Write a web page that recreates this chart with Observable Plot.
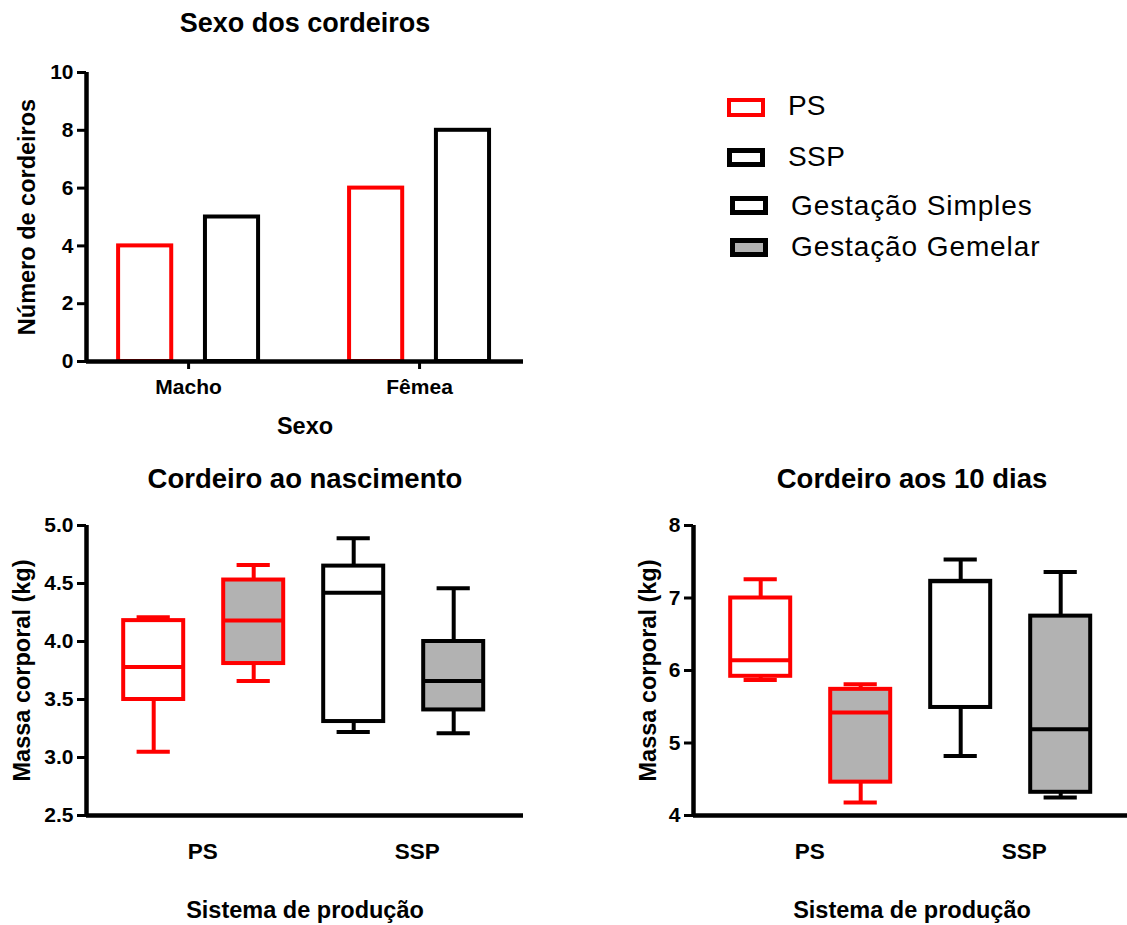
<!DOCTYPE html>
<html>
<head>
<meta charset="utf-8">
<script src="https://cdn.jsdelivr.net/npm/d3@7"></script>
<script src="https://cdn.jsdelivr.net/npm/@observablehq/plot@0.6"></script>
<style>
  html, body { margin: 0; padding: 0; background: #fff; }
  #root { position: relative; width: 1127px; height: 925px; overflow: hidden; font-family: "Liberation Sans", Arial, sans-serif; }
  .panel { position: absolute; width: 545px; }
  .panel svg { max-width: none !important; }
  .swatch { position: absolute; box-sizing: border-box; }
  .legend-label { position: absolute; font-size: 28px; line-height: 1; white-space: nowrap; transform: translateY(-50%); color: #000; }
</style>
</head>
<body>
<div id="root"></div>
<script>
// ---------------- DATA ----------------
const sexes = ["Macho", "Fêmea"];
const systems = ["PS", "SSP"];
const countsPS = [4, 6];
const countsSSP = [5, 8];

const gestations = ["Gestação Simples", "Gestação Gemelar"];
// box order: PS-Simples, PS-Gemelar, SSP-Simples, SSP-Gemelar
const birthMin = [3.05, 3.66, 3.22, 3.21];
const birthQ1  = [3.50, 3.81, 3.31, 3.41];
const birthMed = [3.78, 4.18, 4.42, 3.66];
const birthQ3  = [4.18, 4.53, 4.65, 4.00];
const birthMax = [4.21, 4.66, 4.89, 4.46];

const day10Min = [5.87, 4.18, 4.82, 4.25];
const day10Q1  = [5.92, 4.46, 5.49, 4.32];
const day10Med = [6.14, 5.42, 7.23, 5.19];
const day10Q3  = [7.00, 5.74, 7.23, 6.75];
const day10Max = [7.26, 5.81, 7.53, 7.36];

const countTicks = [0, 2, 4, 6, 8, 10];
const birthTicks = [2.5, 3.0, 3.5, 4.0, 4.5, 5.0];
const day10Ticks = [4, 5, 6, 7, 8];

const legendLabels = ["PS", "SSP", "Gestação Simples", "Gestação Gemelar"];

// ---------------- STYLE ----------------
const RED = "#ff0000";
const BLACK = "#000000";
const GREY = "#b2b2b2";
const systemColor = s => s === "PS" ? RED : BLACK;
const gestFill = g => g === gestations[0] ? "#ffffff" : GREY;
const FONT = "'Liberation Sans', Arial, sans-serif";
const TICK_FS = 21;
const root = document.getElementById("root");

function place(el, left, top) {
  const wrap = document.createElement("div");
  wrap.className = "panel";
  wrap.style.left = left + "px";
  wrap.style.top = top + "px";
  wrap.appendChild(el);
  root.appendChild(wrap);
}

// ---------------- BAR CHART ----------------
{
  const xDomain = [0.558, 2.45];
  const yDomain = [0, 10];
  const bars = [];
  sexes.forEach((sex, i) => {
    bars.push({sex, system: "PS", value: countsPS[i], pos: i + 1 - 0.188});
    bars.push({sex, system: "SSP", value: countsSSP[i], pos: i + 1 + 0.188});
  });
  const half = 0.115;
  const chart = Plot.plot({
    width: 545, height: 440,
    marginLeft: 86, marginRight: 22, marginTop: 72, marginBottom: 79,
    style: {fontFamily: FONT, fontSize: "21px", fontWeight: "bold", background: "transparent", color: "#000"},
    x: {type: "linear", domain: xDomain},
    y: {domain: yDomain},
    marks: [
      Plot.rectY(bars, {x1: d => d.pos - half, x2: d => d.pos + half, y1: 0, y2: "value",
        fill: "white", stroke: d => systemColor(d.system), strokeWidth: 4}),
      Plot.ruleY([yDomain[0]], {x1: xDomain[0], x2: xDomain[1], stroke: BLACK, strokeWidth: 4.5}),
      Plot.ruleX([xDomain[0]], {y1: yDomain[0], y2: yDomain[1], stroke: BLACK, strokeWidth: 4.5}),
      Plot.axisY({ticks: countTicks, tickSize: 9, tickPadding: 4, strokeWidth: 3, fontSize: TICK_FS, label: null}),
      Plot.axisX({ticks: [1, 2], tickFormat: d => sexes[d - 1], tickSize: 8, tickPadding: 10, strokeWidth: 3, fontSize: TICK_FS, label: null}),
      Plot.text(["Sexo dos cordeiros"], {frameAnchor: "top", textAnchor: "middle", lineAnchor: "middle", dy: -49, fontSize: 27}),
      Plot.text(["Número de cordeiros"], {frameAnchor: "left", textAnchor: "middle", lineAnchor: "middle", rotate: -90, dx: -59, fontSize: 23.5}),
      Plot.text(["Sexo"], {frameAnchor: "bottom", textAnchor: "middle", lineAnchor: "middle", dy: 65, fontSize: 23.5})
    ]
  });
  place(chart, 0, 0);
}

// ---------------- BOX CHARTS ----------------
function boxRows(mins, q1s, meds, q3s, maxs) {
  const rows = [];
  systems.forEach((s, si) => {
    gestations.forEach((g, gi) => {
      const i = si * gestations.length + gi;
      rows.push({system: s, gestation: g, pos: si + 1 + (gi === 0 ? -0.25 : 0.25),
        min: mins[i], q1: q1s[i], med: meds[i], q3: q3s[i], max: maxs[i]});
    });
  });
  return rows;
}

// category label positions (the original places the SSP label slightly right of its group centre)
const systemTickPos = [0.995, 2.068];

function boxChart(rows, title, yDomain, ticks, fmt, yLabelDx) {
  const xDomain = [0.414, 2.599];
  const bw = 0.15, cw = 0.083;
  const col = d => systemColor(d.system);
  return Plot.plot({
    width: 545, height: 465,
    marginLeft: 86, marginRight: 22, marginTop: 65, marginBottom: 110,
    style: {fontFamily: FONT, fontSize: "21px", fontWeight: "bold", background: "transparent", color: "#000"},
    x: {type: "linear", domain: xDomain},
    y: {domain: yDomain},
    marks: [
      Plot.ruleX(rows, {x: "pos", y1: "q3", y2: "max", stroke: col, strokeWidth: 4}),
      Plot.ruleX(rows, {x: "pos", y1: "min", y2: "q1", stroke: col, strokeWidth: 4}),
      Plot.ruleY(rows, {y: "max", x1: d => d.pos - cw, x2: d => d.pos + cw, stroke: col, strokeWidth: 4}),
      Plot.ruleY(rows, {y: "min", x1: d => d.pos - cw, x2: d => d.pos + cw, stroke: col, strokeWidth: 4}),
      Plot.rect(rows, {x1: d => d.pos - bw, x2: d => d.pos + bw, y1: "q1", y2: "q3",
        fill: d => gestFill(d.gestation), stroke: col, strokeWidth: 4}),
      Plot.ruleY(rows, {y: "med", x1: d => d.pos - bw, x2: d => d.pos + bw, stroke: col, strokeWidth: 4}),
      Plot.ruleY([yDomain[0]], {x1: xDomain[0], x2: xDomain[1], stroke: BLACK, strokeWidth: 4.5}),
      Plot.ruleX([xDomain[0]], {y1: yDomain[0], y2: yDomain[1], stroke: BLACK, strokeWidth: 4.5}),
      Plot.axisY({ticks, tickFormat: fmt, tickSize: 9, tickPadding: 4, strokeWidth: 3, fontSize: TICK_FS, label: null}),
      Plot.axisX({ticks: systemTickPos, tickFormat: d => systems[Math.round(d) - 1], tickSize: 0, tickPadding: 28, fontSize: 22.5, label: null}),
      Plot.text([title], {frameAnchor: "top", textAnchor: "middle", lineAnchor: "middle", dy: -46, fontSize: 27.5}),
      Plot.text(["Massa corporal (kg)"], {frameAnchor: "left", textAnchor: "middle", lineAnchor: "middle", rotate: -90, dx: yLabelDx, fontSize: 23.5}),
      Plot.text(["Sistema de produção"], {frameAnchor: "bottom", textAnchor: "middle", lineAnchor: "middle", dy: 95, fontSize: 23.5})
    ]
  });
}

place(boxChart(boxRows(birthMin, birthQ1, birthMed, birthQ3, birthMax), "Cordeiro ao nascimento",
  [2.5, 5.0], birthTicks, d3.format(".1f"), -64), 0, 460);
place(boxChart(boxRows(day10Min, day10Q1, day10Med, day10Q3, day10Max), "Cordeiro aos 10 dias",
  [4, 8], day10Ticks, d3.format("d"), -45.5), 607, 460);

// ---------------- LEGEND ----------------
const legendStyles = [
  {stroke: RED, fill: "#fff", bw: 4, sx: 727, sy: 98, tx: 788, ty: 106, ls: 0},
  {stroke: BLACK, fill: "#fff", bw: 5, sx: 727, sy: 148, tx: 788, ty: 157, ls: 0.4},
  {stroke: BLACK, fill: "#fff", bw: 5, sx: 730, sy: 196, tx: 791, ty: 206, ls: 0.9},
  {stroke: BLACK, fill: GREY, bw: 5, sx: 730, sy: 238, tx: 791, ty: 247, ls: 0.9}
];
legendLabels.forEach((lab, i) => {
  const st = legendStyles[i];
  const sw = document.createElement("div");
  sw.className = "swatch";
  Object.assign(sw.style, {left: st.sx + "px", top: st.sy + "px", width: "38px", height: "19px",
    border: st.bw + "px solid " + st.stroke, background: st.fill});
  root.appendChild(sw);
  const tx = document.createElement("div");
  tx.className = "legend-label";
  tx.textContent = lab;
  Object.assign(tx.style, {left: st.tx + "px", top: st.ty + "px", letterSpacing: st.ls + "px"});
  root.appendChild(tx);
});
</script>
</body>
</html>
